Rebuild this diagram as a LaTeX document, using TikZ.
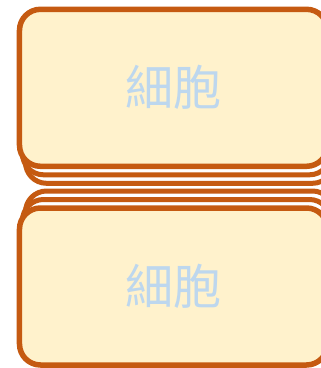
\documentclass[tikz,border=0pt]{standalone}
\usepackage{fontspec}
\newfontfamily\cjk{Noto Sans CJK SC}
\definecolor{boxline}{HTML}{C55A11}
\definecolor{boxfill}{HTML}{FFF2CC}
\definecolor{celltext}{HTML}{BDD7EE}
\tikzset{
  boxshape/.style={draw=boxline, line width=5.5pt, rounded corners=21pt,
    minimum width=308pt, minimum height=157pt, inner sep=0pt},
  cellbox/.style={boxshape, fill=boxfill,
    font=\cjk\fontsize{48}{48}\selectfont, text=celltext},
  copybox/.style={boxshape, fill=white, line width=5pt}
}
\begin{document}
\begin{tikzpicture}[x=1pt, y=-1pt]
  \useasboundingbox (0,0) rectangle (321,368);
  \clip (0,0) rectangle (321,368);
  % top cell with its copies below
  \node[copybox] (topc2) at (179.5,104.8) {};
  \node[copybox] (topc1) at (176.5,96.3) {};
  \node[cellbox] (top) at (173.5,87.8) {細胞};
  % bottom cell with its copies above
  \node[copybox] (botc2) at (179.5,269.5) {};
  \node[copybox] (botc1) at (176.5,278) {};
  \node[cellbox] (bottom) at (173.5,286.5) {細胞};
\end{tikzpicture}
\end{document}
